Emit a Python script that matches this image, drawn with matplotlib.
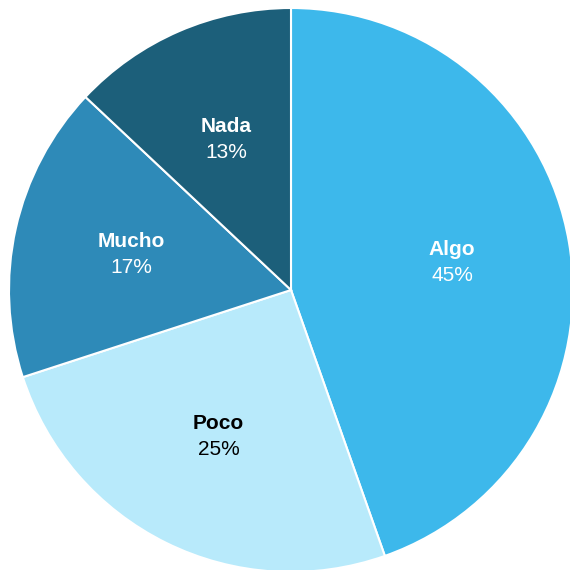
import matplotlib.pyplot as plt
import numpy as np

labels = ['Algo', 'Poco', 'Mucho', 'Nada']
values = [44.6, 25.4, 17.0, 13.0]
pct_labels = ['45%', '25%', '17%', '13%']
colors = ['#3db8eb', '#b8eafb', '#2e8ab8', '#1c5f7a']
text_colors = ['white', 'black', 'white', 'white']

plt.rcParams['font.family'] = ['Liberation Sans', 'DejaVu Sans']

fig = plt.figure(figsize=(5.7, 5.7), dpi=100)
ax = fig.add_axes([0, 0, 1, 1])

wedges, _ = ax.pie(values, colors=colors, startangle=90, counterclock=False,
                   radius=1, wedgeprops=dict(edgecolor='white', linewidth=1.5))

# label placement at slice mid-angles
total = sum(values)
start = 90.0
for lab, v, p, tc in zip(labels, values, pct_labels, text_colors):
    mid = np.deg2rad(start - v / total * 360 / 2)
    start -= v / total * 360
    r = 0.58
    x, y = r * np.cos(mid), r * np.sin(mid)
    ax.text(x, y + 0.046, lab, ha='center', va='center', fontsize=15,
            fontweight='bold', color=tc)
    ax.text(x, y - 0.046, p, ha='center', va='center', fontsize=15,
            color=tc)

ax.set_xlim(-291 / 282, (570 - 291) / 282)
ax.set_ylim(-(570 - 290) / 282, 290 / 282)
ax.set_aspect('equal')
ax.axis('off')

fig.savefig('out.png', dpi=100)
